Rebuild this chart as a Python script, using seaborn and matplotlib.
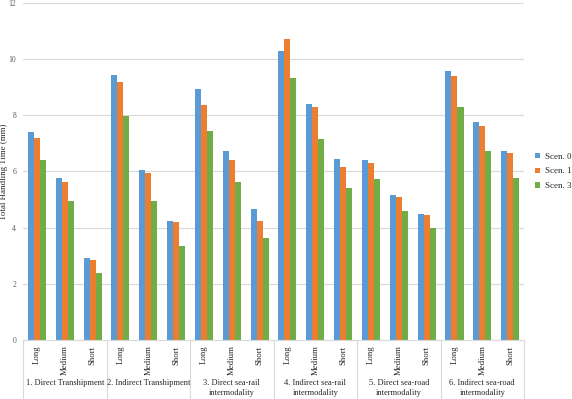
import numpy as np
import pandas as pd
import seaborn as sns
import matplotlib.pyplot as plt
import matplotlib.transforms as mtransforms

# Values
groups = ["1. Direct Transhipment", "2. Indirect Transhipment",
          "3. Direct sea-rail\nintermodality", "4. Indirect sea-rail\nintermodality",
          "5. Direct sea-road\nintermodality", "6. Indirect sea-road\nintermodality"]
distances = ["Long", "Medium", "Short"]
scenarios = ["Scen. 0", "Scen. 1", "Scen. 3"]

scen0 = [7.40, 5.77, 2.92, 9.43, 6.05, 4.23, 8.93, 6.73, 4.65,
         10.28, 8.40, 6.45, 6.42, 5.16, 4.48, 9.57, 7.76, 6.74]
scen1 = [7.19, 5.62, 2.85, 9.18, 5.94, 4.19, 8.36, 6.41, 4.24,
         10.70, 8.28, 6.17, 6.30, 5.09, 4.44, 9.40, 7.63, 6.65]
scen3 = [6.40, 4.95, 2.40, 7.97, 4.95, 3.36, 7.44, 5.63, 3.64,
         9.32, 7.15, 5.40, 5.72, 4.59, 3.98, 8.30, 6.73, 5.78]

colors = ["#5B9BD5", "#ED7D31", "#70AD47"]

# long format table
cats = [f"{g}|{d}" for g in range(len(groups)) for d in distances]
rows = []
for name, vals in zip(scenarios, [scen0, scen1, scen3]):
    for c, v in zip(cats, vals):
        rows.append({"cat": c, "Scenario": name, "Time": v})
df = pd.DataFrame(rows)

sns.set_style("white")
plt.rcParams["font.family"] = ["Liberation Serif", "DejaVu Serif"]

fig = plt.figure(figsize=(5.72, 3.99), dpi=100)
ax = fig.add_axes([0.0402, 0.148, 0.876, 0.8445])

sns.barplot(data=df, x="cat", y="Time", hue="Scenario", order=cats,
            hue_order=scenarios, palette=colors, width=0.65,
            saturation=1, linewidth=0, ax=ax)

ax.set_ylim(0, 12)
ax.set_yticks(np.arange(0, 13, 2))
ax.yaxis.grid(True, color="#D9D9D9", linewidth=0.8)
ax.set_axisbelow(True)
for s in ["top", "right", "left"]:
    ax.spines[s].set_visible(False)
ax.spines["bottom"].set_color("#D9D9D9")
ax.spines["bottom"].set_linewidth(0.8)
ax.tick_params(axis="y", length=0, labelsize=5.5, labelcolor="#595959", pad=5)

ax.set_xticks(range(len(cats)))
ax.set_xticklabels(distances * len(groups), rotation=90, fontsize=6.3, va="top")
ax.tick_params(axis="x", length=0, pad=4)
ax.set_xlim(-0.5, len(cats) - 0.5)
ax.set_xlabel("")
ax.set_ylabel("Total Handling Time (mm)", fontsize=6.5)
ax.yaxis.set_label_coords(-0.029, 0.5)

# group labels and separators below the axis
trans = mtransforms.blended_transform_factory(ax.transData, ax.transAxes)
for i, g in enumerate(groups):
    ax.text(3 * i + 1, -0.117, g, transform=trans, ha="center", va="top",
            fontsize=6, linespacing=1.25)
for i in range(len(groups) + 1):
    ax.plot([3 * i - 0.5, 3 * i - 0.5], [0, -0.18], transform=trans,
            color="#D9D9D9", linewidth=0.8, clip_on=False)

ax.legend(loc="center left", bbox_to_anchor=(1.005, 0.5), frameon=False,
          fontsize=6.5, handlelength=0.55, handleheight=0.55,
          handletextpad=0.6, labelspacing=0.75)

fig.savefig("out.png", dpi=100)
